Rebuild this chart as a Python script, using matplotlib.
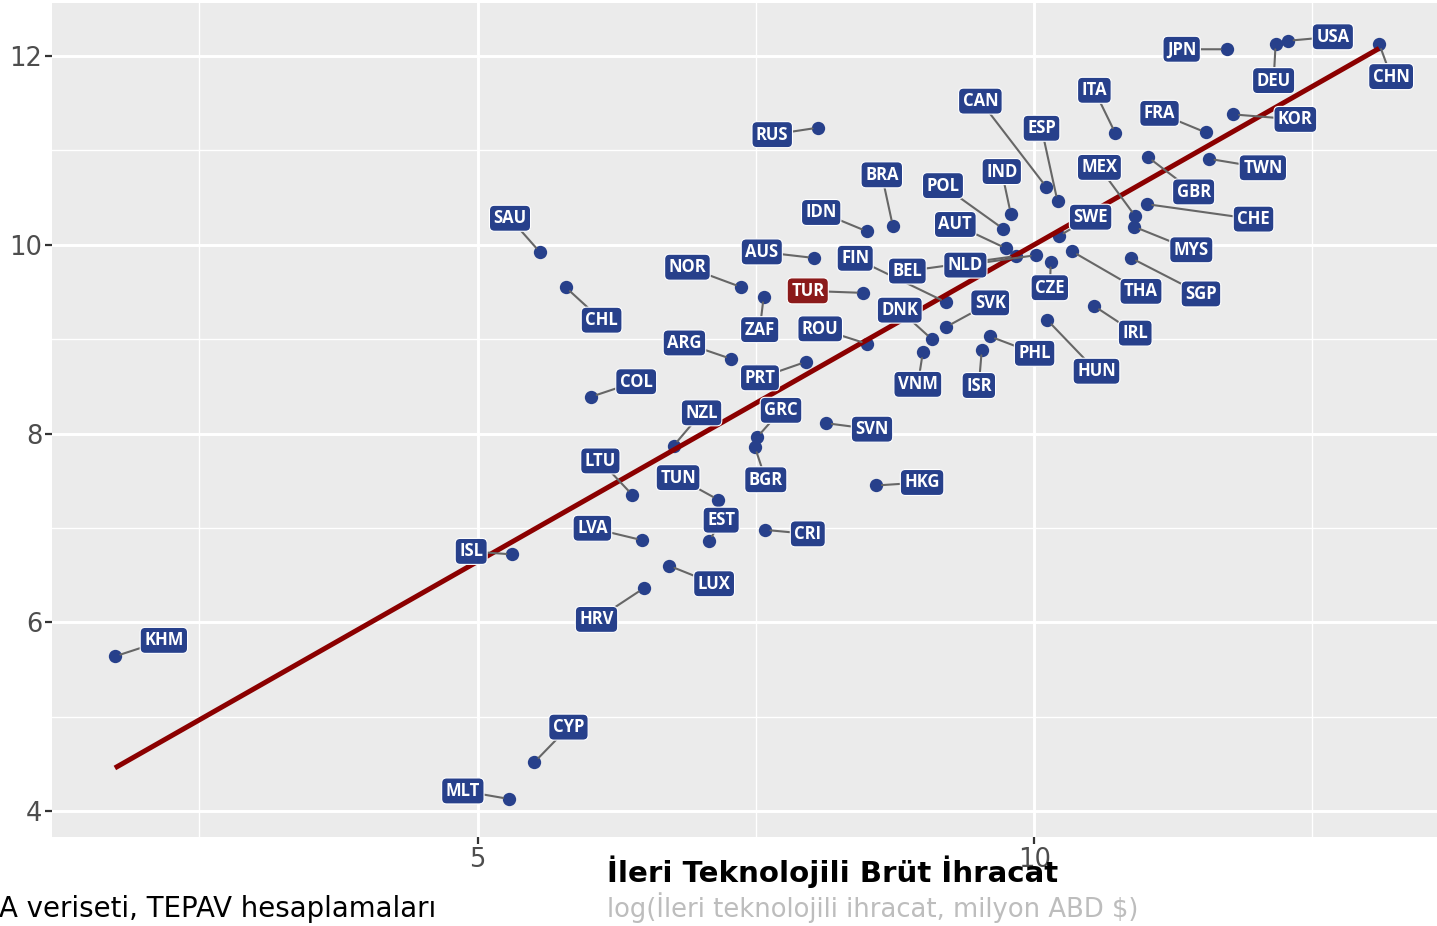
import numpy as np
import matplotlib
matplotlib.use("Agg")
import matplotlib.pyplot as plt
from matplotlib.ticker import FixedLocator

# ---------------- data ----------------
codes = ["KHM", "MLT", "CYP", "ISL", "HRV", "LUX", "LVA", "EST", "CRI", "TUN",
         "LTU", "BGR", "GRC", "NZL", "HKG", "SVN", "COL", "PRT", "ARG", "ZAF",
         "NOR", "CHL", "SAU", "AUS", "TUR", "ROU", "IDN", "BRA", "RUS", "FIN",
         "BEL", "NLD", "DNK", "VNM", "SVK", "ISR", "PHL", "AUT", "POL", "IND",
         "CAN", "ESP", "ITA", "MEX", "SWE", "CZE", "THA", "SGP", "IRL", "HUN",
         "MYS", "GBR", "CHE", "FRA", "TWN", "KOR", "JPN", "DEU", "USA", "CHN"]

x_vals = [1.74, 5.28, 5.51, 5.31, 6.49, 6.72, 6.48, 7.08, 7.58, 7.16,
          6.39, 7.49, 7.51, 6.76, 8.58, 8.13, 6.02, 7.95, 7.28, 7.57,
          7.37, 5.79, 5.56, 8.02, 8.46, 8.50, 8.50, 8.73, 8.06, 9.21,
          9.84, 10.02, 9.08, 9.00, 9.21, 9.53, 9.60, 9.75, 9.72, 9.79,
          10.11, 10.21, 10.73, 10.91, 10.22, 10.15, 10.34, 10.87, 10.54, 10.12,
          10.90, 11.02, 11.01, 11.54, 11.57, 11.79, 11.73, 12.17, 12.28, 13.10]

y_vals = [5.64, 4.13, 4.52, 6.72, 6.36, 6.60, 6.87, 6.86, 6.98, 7.30,
          7.35, 7.86, 7.96, 7.87, 7.45, 8.11, 8.39, 8.76, 8.79, 9.45,
          9.55, 9.55, 9.92, 9.86, 9.49, 8.95, 10.14, 10.20, 11.24, 9.39,
          9.88, 9.89, 9.00, 8.86, 9.13, 8.89, 9.03, 9.96, 10.17, 10.33,
          10.61, 10.46, 11.18, 10.30, 10.09, 9.82, 9.93, 9.86, 9.35, 9.20,
          10.19, 10.93, 10.43, 11.19, 10.91, 11.38, 12.07, 12.13, 12.16, 12.13]

highlight = "TUR"

x_major = [5, 10]
x_minor = [2.5, 7.5, 12.5]
y_major = [4, 6, 8, 10, 12]
y_minor = [5, 7, 9, 11]

title = "İleri Teknolojili Brüt İhracat"
subtitle = "log(İleri teknolojili ihracat, milyon ABD $)"
caption = "A veriseti, TEPAV hesaplamaları"

# ---------------- layout (label offsets in pixels, +y downwards) ----------------
label_offsets = {
    "KHM": (49, -16), "MLT": (-46, -8), "CYP": (34, -35), "ISL": (-41, -3),
    "HRV": (-47, 31), "LUX": (45, 18), "LVA": (-50, -12), "EST": (12, -21),
    "CRI": (43, 4), "TUN": (-40, -22), "LTU": (-32, -34), "BGR": (11, 33),
    "GRC": (24, -27), "NZL": (28, -33), "HKG": (46, -3), "SVN": (46, 6),
    "COL": (45, -15), "PRT": (-46, 16), "ARG": (-47, -16), "ZAF": (-4, 33),
    "NOR": (-54, -20), "CHL": (36, 33), "SAU": (-30, -34), "AUS": (-52, -6),
    "TUR": (-55, -2), "ROU": (-47, -15), "IDN": (-46, -19), "BRA": (-11, -51),
    "RUS": (-46, 7), "FIN": (-91, -44), "BEL": (-109, 15), "NLD": (-71, 10),
    "DNK": (-32, -29), "VNM": (-5, 32), "SVK": (44, -24), "ISR": (-3, 36),
    "PHL": (45, 17), "AUT": (-51, -24), "POL": (-60, -43), "IND": (-9, -42),
    "CAN": (-66, -86), "ESP": (-16, -73), "ITA": (-21, -43), "MEX": (-36, -49),
    "SWE": (32, -19), "CZE": (-1, 26), "THA": (69, 40), "SGP": (70, 36),
    "IRL": (41, 27), "HUN": (49, 51), "MYS": (57, 23), "GBR": (46, 35),
    "CHE": (107, 15), "FRA": (-46, -19), "TWN": (54, 9), "KOR": (62, 5),
    "JPN": (-45, 0), "DEU": (-2, 37), "USA": (45, -4), "CHN": (12, 33),
}

W, H, DPI = 1437, 926, 100
PT = 72.0 / DPI

BLUE = "#27408B"
RED = "#8B1A1A"

fig = plt.figure(figsize=(W / DPI, H / DPI), dpi=DPI)
fig.patch.set_facecolor("white")
ax = fig.add_axes([52 / W, 1 - 837 / H, (W - 52) / W, (837 - 3) / H])
ax.set_facecolor("#EBEBEB")
ax.set_xlim(1.175, 13.62)
ax.set_ylim(3.727, 12.56)

ax.xaxis.set_major_locator(FixedLocator(x_major))
ax.xaxis.set_minor_locator(FixedLocator(x_minor))
ax.yaxis.set_major_locator(FixedLocator(y_major))
ax.yaxis.set_minor_locator(FixedLocator(y_minor))
ax.grid(which="major", color="white", lw=2.1)
ax.grid(which="minor", color="white", lw=1.0)
ax.set_axisbelow(True)
for s in ax.spines.values():
    s.set_visible(False)
ax.tick_params(which="major", length=5, width=1.6, color="#333333",
               labelsize=18.5, labelcolor="#4D4D4D", pad=2)
ax.tick_params(which="minor", length=0)

x = np.array(x_vals)
y = np.array(y_vals)

ax.scatter(x, y, s=92, color=BLUE, linewidths=0, zorder=3)

coef = np.polyfit(x, y, 1)
xs = np.array([x.min(), x.max()])
ax.plot(xs, np.polyval(coef, xs), color="#8B0000", lw=3.6, zorder=4,
        solid_capstyle="butt")

# segments first (all), then labels on top
for c, xi, yi in zip(codes, x_vals, y_vals):
    dx, dy = label_offsets[c]
    ax.annotate("", xy=(xi, yi), xytext=(dx * PT, -dy * PT),
                textcoords="offset points",
                arrowprops=dict(arrowstyle="-", color="#666666", lw=1.5,
                                shrinkA=0, shrinkB=4.2),
                zorder=5)

for c, xi, yi in zip(codes, x_vals, y_vals):
    dx, dy = label_offsets[c]
    fc = RED if c == highlight else BLUE
    ax.annotate(c, xy=(xi, yi), xytext=(dx * PT, -dy * PT),
                textcoords="offset points", ha="center", va="center",
                fontsize=12, fontweight="bold", family="Open Sans",
                color="white",
                bbox=dict(boxstyle="round,pad=0.24,rounding_size=0.3",
                          fc=fc, ec="white", lw=0.8),
                zorder=6)

fig.text(607 / W, 1 - 881.7 / H, title, fontsize=21.1, fontweight="bold",
         ha="left", va="baseline", color="black")
fig.text(607 / W, 1 - 917 / H, subtitle, fontsize=18.6, color="#BDBDBD",
         ha="left", va="baseline")
fig.text(436 / W, 1 - 917 / H, caption, fontsize=19.9, color="black",
         ha="right", va="baseline")

fig.savefig("out.png", dpi=DPI)
